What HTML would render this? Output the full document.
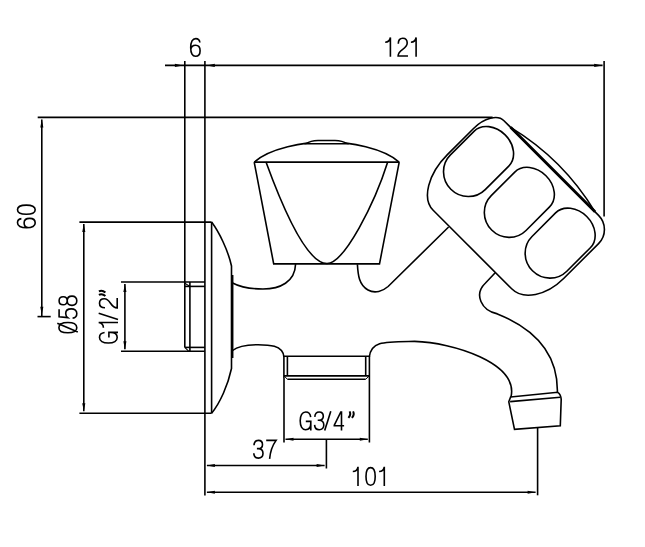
<!DOCTYPE html>
<html><head><meta charset="utf-8"><style>
html,body{margin:0;padding:0;background:#fff;}
body{width:645px;height:547px;overflow:hidden;position:relative;}
svg{position:absolute;left:0;top:0;}
</style></head><body>
<svg width="645" height="547" viewBox="0 0 645 547" stroke="#000" stroke-linecap="butt" fill="none">
<path d="M182.90,65.40 L174.90,66.95 L174.90,63.85Z" fill="#000" stroke="none"/>
<line x1="165" y1="65.4" x2="602.6" y2="65.4" stroke-width="1.6"/>
<path d="M206.80,65.40 L214.80,63.85 L214.80,66.95Z" fill="#000" stroke="none"/>
<path d="M602.20,65.40 L594.20,66.95 L594.20,63.85Z" fill="#000" stroke="none"/>
<line x1="184.8" y1="61" x2="184.8" y2="347.4" stroke-width="1.6"/>
<line x1="204.9" y1="61" x2="204.9" y2="495.5" stroke-width="1.6"/>
<line x1="604.1" y1="61" x2="604.1" y2="216.5" stroke-width="1.6"/>
<line x1="37.7" y1="117.4" x2="492.6" y2="117.4" stroke-width="1.6"/>
<line x1="41.8" y1="119.4" x2="41.8" y2="316" stroke-width="1.6"/>
<path d="M41.80,119.40 L43.35,127.40 L40.25,127.40Z" fill="#000" stroke="none"/>
<path d="M41.80,314.80 L40.25,306.80 L43.35,306.80Z" fill="#000" stroke="none"/>
<line x1="37.5" y1="316.6" x2="50.7" y2="316.6" stroke-width="1.6"/>
<line x1="79.4" y1="222.1" x2="211.6" y2="222.1" stroke-width="1.6"/>
<line x1="83.8" y1="224.1" x2="83.8" y2="411.3" stroke-width="1.6"/>
<path d="M83.80,224.10 L85.35,232.10 L82.25,232.10Z" fill="#000" stroke="none"/>
<path d="M83.80,411.30 L82.25,403.30 L85.35,403.30Z" fill="#000" stroke="none"/>
<line x1="79.4" y1="413.2" x2="211.6" y2="413.2" stroke-width="1.6"/>
<line x1="121" y1="282" x2="205" y2="282" stroke-width="1.6"/>
<line x1="124.9" y1="284" x2="124.9" y2="349.3" stroke-width="1.6"/>
<path d="M124.90,284.00 L126.45,292.00 L123.35,292.00Z" fill="#000" stroke="none"/>
<path d="M124.90,349.30 L123.35,341.30 L126.45,341.30Z" fill="#000" stroke="none"/>
<line x1="121" y1="351.2" x2="204.9" y2="351.2" stroke-width="1.6"/>
<line x1="284" y1="378" x2="284" y2="442.5" stroke-width="1.6"/>
<line x1="369.4" y1="378" x2="369.4" y2="442.5" stroke-width="1.6"/>
<line x1="285.5" y1="439.3" x2="367.8" y2="439.3" stroke-width="1.6"/>
<path d="M285.50,439.30 L293.50,437.75 L293.50,440.85Z" fill="#000" stroke="none"/>
<path d="M367.80,439.30 L359.80,440.85 L359.80,437.75Z" fill="#000" stroke="none"/>
<line x1="326.4" y1="439.3" x2="326.4" y2="468.5" stroke-width="1.6"/>
<line x1="206.9" y1="465.5" x2="324.6" y2="465.5" stroke-width="1.6"/>
<path d="M206.90,465.50 L214.90,463.95 L214.90,467.05Z" fill="#000" stroke="none"/>
<path d="M324.60,465.50 L316.60,467.05 L316.60,463.95Z" fill="#000" stroke="none"/>
<line x1="206.9" y1="492.3" x2="535.6" y2="492.3" stroke-width="1.6"/>
<path d="M206.90,492.30 L214.90,490.75 L214.90,493.85Z" fill="#000" stroke="none"/>
<path d="M535.60,492.30 L527.60,493.85 L527.60,490.75Z" fill="#000" stroke="none"/>
<line x1="537.6" y1="427.6" x2="537.6" y2="495.3" stroke-width="1.6"/>
<line x1="184.8" y1="286.4" x2="204.9" y2="286.4" stroke-width="1.6"/>
<line x1="189.9" y1="282" x2="189.9" y2="351.2" stroke-width="1.6"/>
<line x1="184.8" y1="347.4" x2="204.9" y2="347.4" stroke-width="1.6"/>
<line x1="184.8" y1="283.3" x2="189.9" y2="286.4" stroke-width="1.1"/>
<line x1="184.8" y1="347.4" x2="188.6" y2="351.2" stroke-width="1.1"/>
<line x1="211.6" y1="222.1" x2="211.6" y2="413.2" stroke-width="1.6"/>
<path d="M211.6,222.1 C219,232 228,250 231.5,266 L231.5,368.5 C228,385 220,403 211.6,413.2" stroke-width="1.6" fill="none"/>
<line x1="232.5" y1="275" x2="232.5" y2="358" stroke-width="1.9"/>
<path d="M232.6,283 C240,287 252,289 263,289 C280,289 295,282 295.6,264" stroke-width="1.6" fill="none"/>
<path d="M232.6,350.5 C238,346 248,344.7 258,344.7 C268,344.7 283,345 283.9,357" stroke-width="1.6" fill="none"/>
<path d="M283.9,356.2 L369.4,356.2" stroke-width="1.6" fill="none"/>
<line x1="283.9" y1="356.2" x2="283.9" y2="378" stroke-width="1.6"/>
<line x1="369.4" y1="356" x2="369.4" y2="378" stroke-width="1.6"/>
<line x1="287.4" y1="356.2" x2="287.4" y2="376" stroke-width="1.6"/>
<line x1="365.7" y1="356.2" x2="365.7" y2="376" stroke-width="1.6"/>
<line x1="283.9" y1="375.8" x2="369.4" y2="375.8" stroke-width="1.8"/>
<line x1="287.4" y1="379.2" x2="365.7" y2="379.2" stroke-width="1.6"/>
<line x1="283.9" y1="375.8" x2="287.4" y2="379.2" stroke-width="1.0"/>
<line x1="369.4" y1="375.8" x2="365.7" y2="379.2" stroke-width="1.0"/>
<path d="M254.3,162.1 C269.79,148.2 303.83,141.9 326.7,141.9 C349.57,141.9 383.61,148.2 399.1,162.1" stroke-width="1.6" fill="none"/>
<line x1="254.2" y1="162.1" x2="399.2" y2="162.1" stroke-width="1.6"/>
<path d="M254.2,162.1 L273.7,263.9 L379.5,263.9 L399.2,162.1" stroke-width="1.6" fill="none"/>
<path d="M266,162.1 C281.98,205.91 306.23,263.5 327,263.5" stroke-width="1.6" fill="none"/>
<path d="M387.7,162.1 C374.85,202.98 344.38,263.5 327,263.5" stroke-width="1.6" fill="none"/>
<path d="M306.2,143.8 C309,141.6 312,140.5 318,140.4 L335,140.4 C341,140.5 344,141.6 346.9,143.8 Z" fill="#fff" stroke-width="1.5"/>
<path d="M357.4,264.2 C358,275 359,285 368,290 C375,294 383,291 388.1,286.5 L448.6,227" stroke-width="1.6" fill="none"/>
<g transform="rotate(45)">
<path d="M441.7,-271 L575.5,-271 A20,20 0 0 1 595.5,-251 L595.5,-201.6 A29.5,44 0 0 1 566,-157.6 L455,-157.6 A29.3,49.4 0 0 1 425.7,-207 L425.7,-244 A16,27 0 0 1 441.7,-271 Z" stroke-width="1.6" fill="none"/>
<line x1="451.1" y1="-271" x2="570.5" y2="-271" stroke-width="2.8"/>
<path d="M451.1,-271 A250,250 0 0 1 570.5,-271" stroke-width="1.5" fill="none"/>
<path d="M428.00,-209.00 L428.00,-242.30 A24.6,19.5 0 0 1 477.20,-242.30 L477.20,-209.00 A24.6,24.0 0 0 1 428.00,-209.00 Z" stroke-width="1.6" fill="none"/>
<path d="M485.70,-209.00 L485.70,-242.30 A24.6,19.5 0 0 1 534.90,-242.30 L534.90,-209.00 A24.6,24.0 0 0 1 485.70,-209.00 Z" stroke-width="1.6" fill="none"/>
<path d="M543.40,-209.00 L543.40,-242.30 A24.6,19.5 0 0 1 592.60,-242.30 L592.60,-209.00 A24.6,24.0 0 0 1 543.40,-209.00 Z" stroke-width="1.6" fill="none"/>
</g>
<path d="M495.2,272.7 L485.5,283.0 C473.42,294.48 481.51,310.70 497.40,313.90 C529.94,326.99 558.13,350.04 557.40,392.40" stroke-width="1.6" fill="none"/>
<path d="M369.3,357 C371.21,340.96 383.53,341.92 414.60,341.40 C452.36,342.35 518.64,362.74 511.00,397" stroke-width="1.6" fill="none"/>
<path d="M510.6,397 L557.7,392.3 C559.5,393.5 561,396 561.2,399.4 L560.3,425.7 L514.5,429.4 L508.8,401.8 Z" stroke-width="1.6" fill="none"/>
<line x1="510.1" y1="401.6" x2="560.3" y2="397.2" stroke-width="1.6"/>
<g transform="translate(189.9,57.1)" stroke-width="1.6" fill="none"><path transform="translate(0.00,0)" d="M10.0,-14.6 C9.6,-17.2 8.0,-18.5 5.9,-18.5 C2.6,-18.5 0.8,-15.2 0.8,-9.4 C0.8,-3.7 2.6,-0.8 5.6,-0.8 C8.5,-0.8 10.2,-3.0 10.2,-6.3 C10.2,-9.7 8.4,-11.9 5.7,-11.9 C3.0,-11.9 1.2,-10.0 0.9,-7.6"/></g>
<g transform="translate(385.2,56.8)" stroke-width="1.6" fill="none"><path transform="translate(0.00,0)" d="M0,-14.6 C2.6,-14.6 4.6,-15.8 5.2,-19.3 L5.2,0"/><path transform="translate(12.10,0)" d="M1.0,-13.0 C1.0,-16.6 2.8,-18.5 5.5,-18.5 C8.3,-18.5 9.9,-16.5 9.9,-13.7 C9.9,-10.9 8.3,-9.4 5.4,-7.5 C2.4,-5.5 0.8,-3.6 0.8,-0.8 L10.7,-0.8"/><path transform="translate(25.70,0)" d="M0,-14.6 C2.6,-14.6 4.6,-15.8 5.2,-19.3 L5.2,0"/></g>
<g transform="translate(253.0,458.9)" stroke-width="1.6" fill="none"><path transform="translate(0.00,0)" d="M1.0,-13.6 C1.2,-16.9 3.0,-18.5 5.4,-18.5 C8.0,-18.5 9.5,-16.7 9.5,-14.2 C9.5,-11.8 7.9,-10.3 5.2,-10.3 L3.9,-10.3 M5.2,-10.3 C8.3,-10.3 10.0,-8.4 10.0,-5.5 C10.0,-2.5 8.2,-0.8 5.4,-0.8 C2.5,-0.8 0.9,-2.5 0.8,-5.6"/><path transform="translate(13.20,0)" d="M0,-18.5 L9.9,-18.5 C6.6,-14.0 4.2,-8.4 3.4,0"/></g>
<g transform="translate(352.8,486.1)" stroke-width="1.6" fill="none"><path transform="translate(0.00,0)" d="M0,-14.6 C2.6,-14.6 4.6,-15.8 5.2,-19.3 L5.2,0"/><path transform="translate(12.40,0)" d="M5.4,-18.5 C8.7,-18.5 10,-15.2 10,-9.65 C10,-4.1 8.7,-0.8 5.4,-0.8 C2.1,-0.8 0.8,-4.1 0.8,-9.65 C0.8,-15.2 2.1,-18.5 5.4,-18.5 Z"/><path transform="translate(26.30,0)" d="M0,-14.6 C2.6,-14.6 4.6,-15.8 5.2,-19.3 L5.2,0"/></g>
<g transform="translate(299.4,430.5)" stroke-width="1.6" fill="none"><path transform="translate(0.00,0)" d="M11.3,-13.4 C10.9,-16.7 9.0,-18.5 6.3,-18.5 C2.8,-18.5 0.8,-15.2 0.8,-9.65 C0.8,-4.0 2.8,-0.8 6.2,-0.8 C9.5,-0.8 11.4,-3.3 11.4,-7.4 L11.4,-9.1 L6.4,-9.1 M11.4,-9.1 L11.4,0"/><path transform="translate(14.40,0)" d="M1.0,-13.6 C1.2,-16.9 3.0,-18.5 5.4,-18.5 C8.0,-18.5 9.5,-16.7 9.5,-14.2 C9.5,-11.8 7.9,-10.3 5.2,-10.3 L3.9,-10.3 M5.2,-10.3 C8.3,-10.3 10.0,-8.4 10.0,-5.5 C10.0,-2.5 8.2,-0.8 5.4,-0.8 C2.5,-0.8 0.9,-2.5 0.8,-5.6"/><path transform="translate(24.50,0)" d="M0.8,0 L6.9,-19.3"/><path transform="translate(34.10,0)" d="M8.0,0 L8.0,-19.3 M8.0,-18.5 L7.3,-18.5 L0.8,-5.4 L0.8,-4.8 L10.6,-4.8"/><path transform="translate(48.00,0)" d="M2.2,-19.1 C3.1,-17.4 2.9,-14.7 1.0,-12.6 M5.7,-19.1 C6.6,-17.4 6.4,-14.7 4.5,-12.6" stroke-width="2.0"/></g>
<g transform="translate(36.0,228.6) rotate(-90)" stroke-width="1.6" fill="none"><path transform="translate(0.00,0)" d="M10.0,-14.6 C9.6,-17.2 8.0,-18.5 5.9,-18.5 C2.6,-18.5 0.8,-15.2 0.8,-9.4 C0.8,-3.7 2.6,-0.8 5.6,-0.8 C8.5,-0.8 10.2,-3.0 10.2,-6.3 C10.2,-9.7 8.4,-11.9 5.7,-11.9 C3.0,-11.9 1.2,-10.0 0.9,-7.6"/><path transform="translate(13.50,0)" d="M5.4,-18.5 C8.7,-18.5 10,-15.2 10,-9.65 C10,-4.1 8.7,-0.8 5.4,-0.8 C2.1,-0.8 0.8,-4.1 0.8,-9.65 C0.8,-15.2 2.1,-18.5 5.4,-18.5 Z"/></g>
<g transform="translate(77.6,333.6) rotate(-90)" stroke-width="1.6" fill="none"><path transform="translate(0.00,0)" d="M5.95,-18.7 C9.6,-18.7 11.1,-15.3 11.1,-9.7 C11.1,-4.1 9.6,-0.8 5.95,-0.8 C2.3,-0.8 0.8,-4.1 0.8,-9.7 C0.8,-15.3 2.3,-18.7 5.95,-18.7 Z M1.5,0.2 L10.4,-20.3"/><path transform="translate(14.70,0)" d="M9.7,-18.5 L2.2,-18.5 L1.3,-9.9 C2.3,-11.2 3.7,-11.9 5.5,-11.9 C8.5,-11.9 10.0,-9.7 10.0,-6.3 C10.0,-2.8 8.2,-0.8 5.4,-0.8 C2.6,-0.8 1.0,-2.5 0.8,-5.0"/><path transform="translate(27.40,0)" d="M5.45,-18.5 C8.0,-18.5 9.5,-16.8 9.5,-14.4 C9.5,-12.0 8.0,-10.4 5.45,-10.4 C2.9,-10.4 1.4,-12.0 1.4,-14.4 C1.4,-16.8 2.9,-18.5 5.45,-18.5 Z M5.45,-10.4 C8.4,-10.4 10.1,-8.6 10.1,-5.6 C10.1,-2.6 8.4,-0.8 5.45,-0.8 C2.5,-0.8 0.8,-2.6 0.8,-5.6 C0.8,-8.6 2.5,-10.4 5.45,-10.4 Z"/></g>
<g transform="translate(118.0,343.8) rotate(-90)" stroke-width="1.6" fill="none"><path transform="translate(0.00,0)" d="M11.3,-13.4 C10.9,-16.7 9.0,-18.5 6.3,-18.5 C2.8,-18.5 0.8,-15.2 0.8,-9.65 C0.8,-4.0 2.8,-0.8 6.2,-0.8 C9.5,-0.8 11.4,-3.3 11.4,-7.4 L11.4,-9.1 L6.4,-9.1 M11.4,-9.1 L11.4,0"/><path transform="translate(16.10,0)" d="M0,-14.6 C2.6,-14.6 4.6,-15.8 5.2,-19.3 L5.2,0"/><path transform="translate(23.60,0)" d="M0.8,0 L6.9,-19.3"/><path transform="translate(35.10,0)" d="M1.0,-13.0 C1.0,-16.6 2.8,-18.5 5.5,-18.5 C8.3,-18.5 9.9,-16.5 9.9,-13.7 C9.9,-10.9 8.3,-9.4 5.4,-7.5 C2.4,-5.5 0.8,-3.6 0.8,-0.8 L10.7,-0.8"/><path transform="translate(46.70,0)" d="M2.2,-19.1 C3.1,-17.4 2.9,-14.7 1.0,-12.6 M5.7,-19.1 C6.6,-17.4 6.4,-14.7 4.5,-12.6" stroke-width="2.0"/></g>
</svg>
</body></html>
